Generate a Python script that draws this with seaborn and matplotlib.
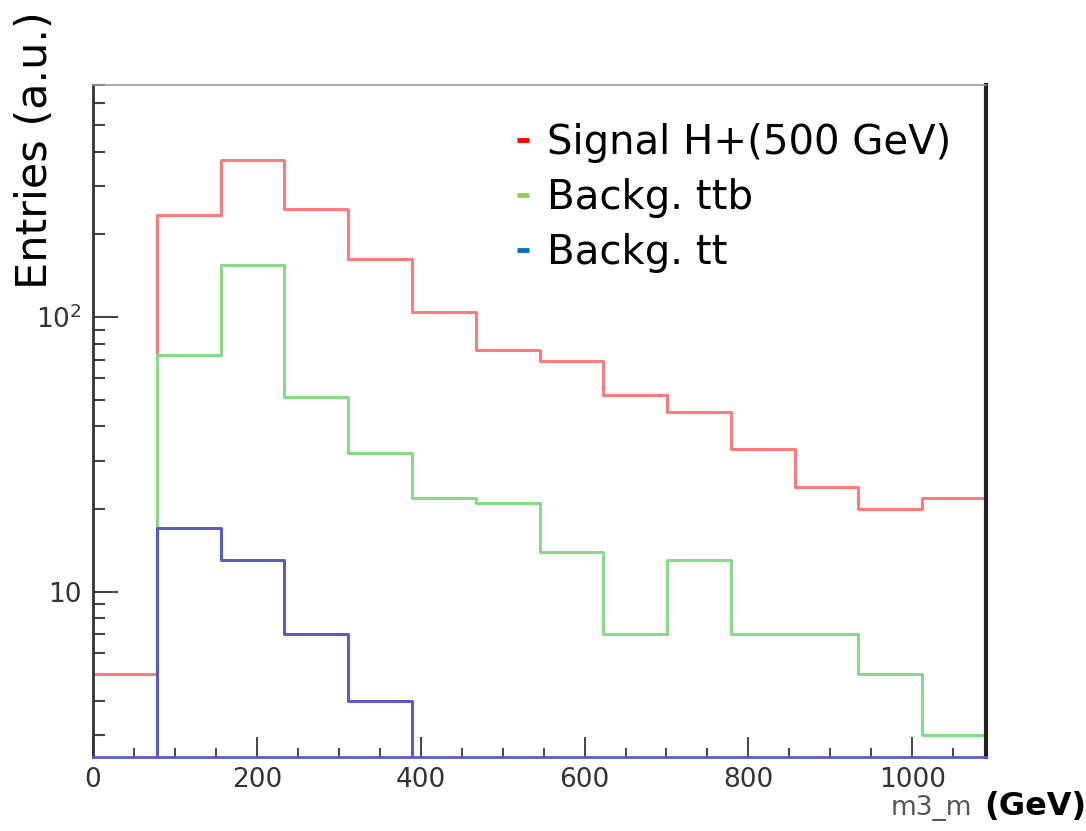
import numpy as np
import pandas as pd
import matplotlib
matplotlib.use("Agg")
import matplotlib.pyplot as plt
import seaborn as sns
from matplotlib.lines import Line2D
from matplotlib.ticker import FixedLocator, FuncFormatter, NullFormatter

# ---- data ----
bin_edges = list(np.linspace(0, 1090, 15))
signal_h500 = [5, 235, 372, 247, 163, 104, 76, 69, 52, 45, 33, 24, 20, 22]
backg_ttb = [0, 73, 155, 51, 32, 22, 21, 14, 7, 13, 7, 7, 5, 3]
backg_tt = [0, 17, 13, 7, 4, 0, 0, 0, 0, 0, 0, 0, 0, 0]
series_labels = ["Signal H+(500 GeV)", "Backg. ttb", "Backg. tt"]
x_major = [0, 200, 400, 600, 800, 1000]
y_major = [10, 100]

line_colors = ["#ff7a7a", "#86dc86", "#5a5acc"]
legend_colors = ["#ff0000", "#92d050", "#0070c0"]

sns.set_style("white")
plt.rcParams["font.family"] = ["DejaVu Sans"]
plt.rcParams["mathtext.fontset"] = "dejavusans"

fig = plt.figure(figsize=(10.86, 8.31), dpi=100)
ax = fig.add_axes([93 / 1086, 1 - 757 / 831, (986 - 93) / 1086, (757 - 85) / 831])

edges_arr = np.array(bin_edges)
centers = (edges_arr[:-1] + edges_arr[1:]) / 2
for vals, col in zip([signal_h500, backg_ttb, backg_tt], line_colors):
    df = pd.DataFrame({"m3": centers, "w": vals})
    sns.histplot(data=df, x="m3", weights="w", bins=bin_edges, element="step",
                 fill=False, color=col, linewidth=2.2, ax=ax)

ax.set_yscale("log")
ax.set_xlim(bin_edges[0], bin_edges[-1])
ax.set_ylim(2.5, 700)
ax.set_xlabel("")
ax.set_ylabel("")

# ticks ROOT-style
ax.xaxis.set_major_locator(FixedLocator(x_major))
ax.xaxis.set_minor_locator(FixedLocator(np.arange(0, 1090, 50)))
ax.yaxis.set_major_locator(FixedLocator(y_major))
minors = [v for d in (1, 10, 100) for v in np.arange(2, 10) * d if 2.5 <= v <= 700 and v not in y_major]
ax.yaxis.set_minor_locator(FixedLocator(minors))
ax.yaxis.set_major_formatter(FuncFormatter(lambda v, p: "10" if v == 10 else r"$10^{2}$"))
ax.yaxis.set_minor_formatter(NullFormatter())
ax.tick_params(axis="x", which="major", direction="in", length=14.5, width=1.4,
               color="#444444", labelsize=19, labelcolor="#333333", pad=7,
               bottom=True, top=False)
ax.tick_params(axis="x", which="minor", direction="in", length=6.5, width=1.4,
               color="#444444", bottom=True, top=False)
ax.tick_params(axis="y", which="major", direction="in", length=18, width=1.5,
               color="#444444", labelsize=19, labelcolor="#333333", pad=8,
               left=True, right=False)
ax.tick_params(axis="y", which="minor", direction="in", length=8.5, width=1.5,
               color="#444444", left=True, right=False)

ax.spines["left"].set_color("#333333")
ax.spines["left"].set_linewidth(2)
ax.spines["bottom"].set_color("#5a5acc")
ax.spines["bottom"].set_linewidth(2)
ax.spines["top"].set_color("#999999")
ax.spines["top"].set_linewidth(1.2)
ax.spines["right"].set_color("#222222")
ax.spines["right"].set_linewidth(3)

# legend
handles = [Line2D([], [], color=c, linewidth=3.5, solid_capstyle="butt") for c in legend_colors]
leg = fig.legend(handles, series_labels, loc="upper left", bbox_to_anchor=(517 / 1086, 1 - 123 / 831),
                 frameon=False, fontsize=29, handlelength=0.3, handletextpad=0.45,
                 labelspacing=0.37, borderpad=0, borderaxespad=0, labelcolor="black")

# axis titles
fig.text(35 / 1086, 1 - 150 / 831, "Entries (a.u.)", rotation=90, ha="center", va="center",
         fontsize=31, color="black")
fig.text(931 / 1086, 1 - 808 / 831, "m3_m", ha="center", va="center", fontsize=19,
         color="#555555")
fig.text(1035 / 1086, 1 - 806 / 831, "(GeV)", ha="center", va="center", fontsize=23,
         fontweight="bold", color="black")

fig.savefig("out.png", dpi=100)
